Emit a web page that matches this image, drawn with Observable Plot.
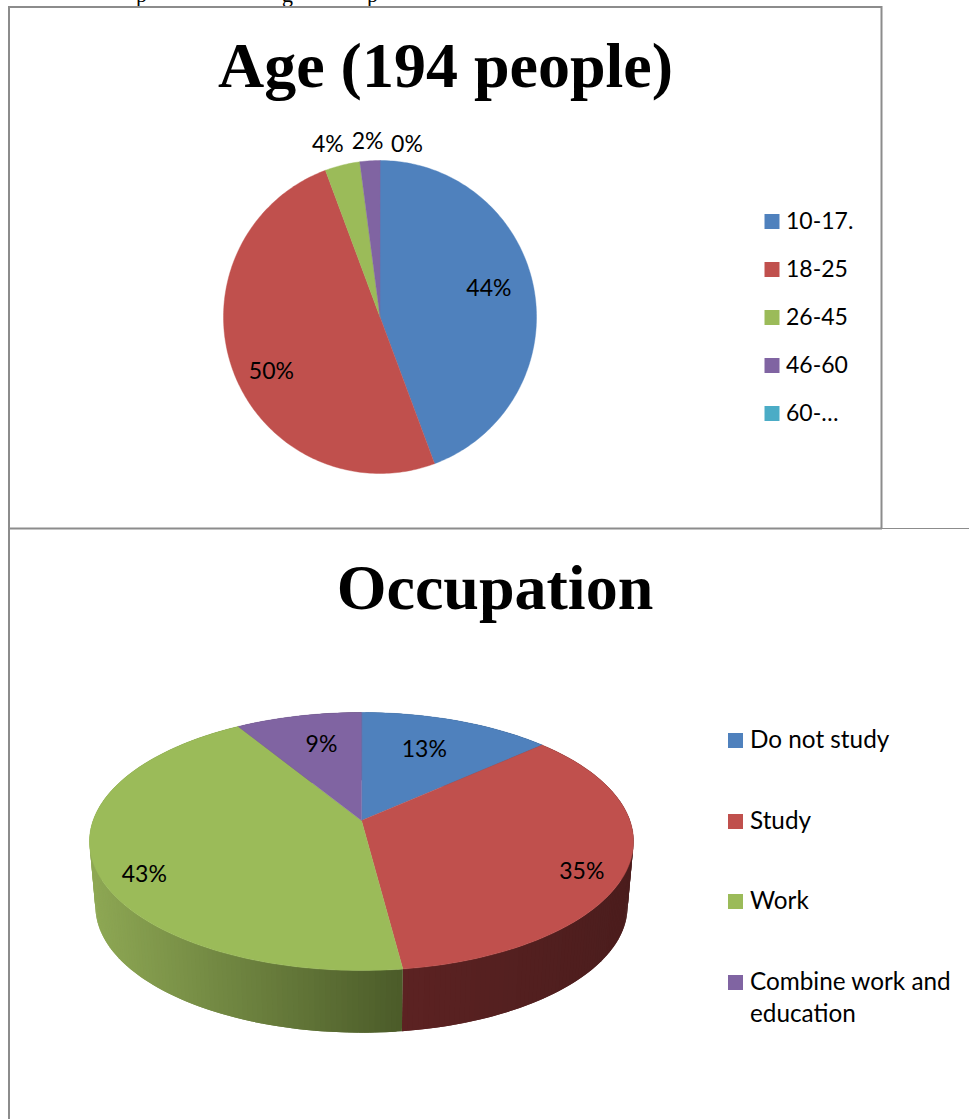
<!DOCTYPE html>
<html>
<head>
<meta charset="utf-8">
<script src="https://cdn.jsdelivr.net/npm/d3@7"></script>
<script src="https://cdn.jsdelivr.net/npm/@observablehq/plot@0.6"></script>
<style>html,body{margin:0;padding:0;background:#fff;overflow:hidden}svg{display:block}</style>
</head>
<body>
<div id="chart"></div>
<script>
// Data
const ageCounts = [86, 97, 7, 4, 0];
const ageLegendLabels = ["10-17.", "18-25", "26-45", "46-60", "60-…"];
const ageColors = ["#4f81bd", "#c0504d", "#9bbb59", "#8064a2", "#4bacc6"];
const occCategories = ["Do not study", "Study", "Work", "Combine work and\neducation"];
const occCounts = [26, 67, 84, 17];
const occColors = ["#4f81bd", "#c0504d", "#9bbb59", "#8064a2"];
const occWallLight = ["#3b618e", "#5c2222", "#8ea854", "#604b7a"];
const occWallDark = ["#2c4a6c", "#4b1d1d", "#4b5b29", "#483a5c"];

// Layout (page pixels)
const W = 969, H = 1119;
const agePie = {cx: 379.5, cy: 316.5, r: 156.5};
const occPie = {cx: 361, apexY: 820, A: 7.9, c: 0.1628, s: 268.4, depth: 65, shrink: 0.978, ellCy: 841};
const ageLabelPlace = [[0.72, -2, -8], [0.72, -3, 15], [1.12, -10, -2], [1.12, -1, 0], [1.12, 27, 3]];
const occLabelPlace = [[0.55, 7, -13], [0.78, 15, 15], [0.82, 0, 18], [0.65, 3, -5]];
const labelFont = "Lato, 'Open Sans', sans-serif";
const labelSize = 23;
const occLegendSize = 24.3;

// Turn values into fractions of the whole
function spans(values) {
  const total = d3.sum(values);
  let acc = 0;
  return values.map(v => {
    const f0 = acc / total;
    acc += v;
    return {f0, f1: acc / total, mid: (f0 + acc / total) / 2, frac: v / total};
  });
}
const ageSpans = spans(ageCounts);
const occSpans = spans(occCounts);
const TAU = Math.PI * 2;

// Flat circle
const flat = (f, k = 1) => ({
  x: agePie.cx + agePie.r * k * Math.sin(f * TAU),
  y: agePie.cy - agePie.r * k * Math.cos(f * TAU)
});
// Tilted disc in perspective
function tilt(f, k = 1) {
  const u = k * Math.sin(f * TAU), v = k * Math.cos(f * TAU);
  const d = 1 + occPie.c * v;
  return {x: occPie.cx + occPie.s * u / d, y: (occPie.apexY + occPie.A * v) / d};
}
function tiltBottom(f) {
  const p = tilt(f);
  return {
    x: occPie.cx + (p.x - occPie.cx) * occPie.shrink,
    y: occPie.ellCy + occPie.depth + (p.y - occPie.ellCy) * occPie.shrink
  };
}

function slicePolys(sp, colors, fn, apex) {
  const pts = [];
  sp.forEach((s, i) => {
    if (s.frac === 0) return;
    const n = Math.max(2, Math.ceil(s.frac * 360));
    pts.push({...apex, key: i, color: colors[i]});
    for (let j = 0; j <= n; j++) {
      const p = fn(s.f0 + (s.f1 - s.f0) * j / n);
      pts.push({...p, key: i, color: colors[i]});
    }
  });
  return pts;
}
const agePts = slicePolys(ageSpans, ageColors, f => flat(f), {x: agePie.cx, y: agePie.cy});
const occPts = slicePolys(occSpans, occColors, f => tilt(f), {x: occPie.cx, y: occPie.apexY});

// Side wall of the tilted disc: strips that overlap their neighbour, light to dark
const wallPts = [];
occSpans.forEach((s, i) => {
  const n = Math.ceil(s.frac * 360);
  const ps = d3.range(n + 1).map(j => s.f0 + (s.f1 - s.f0) * j / n);
  const xs = ps.map(f => tilt(f).x);
  const xLo = d3.min(xs), xHi = d3.max(xs);
  const col = d3.interpolateRgb(occWallLight[i], occWallDark[i]);
  d3.range(n).forEach(j => {
    const a = ps[j], b = ps[Math.min(j + 2, n)];
    const xm = (tilt(ps[j]).x + tilt(ps[j + 1]).x) / 2;
    const t = (xm - xLo) / (xHi - xLo || 1);
    const color = col(t);
    const key = `${i}-${j}`;
    [tilt(a), tilt(b), tiltBottom(b), tiltBottom(a)].forEach(p => wallPts.push({...p, key, color}));
  });
});

// Labels
const ageLabels = ageSpans.map((s, i) => {
  const [k, dx, dy] = ageLabelPlace[i];
  const p = flat(s.mid, k);
  return {x: p.x + dx, y: p.y + dy, text: d3.format(".0%")(s.frac)};
});
const occLabels = occSpans.map((s, i) => {
  const [k, dx, dy] = occLabelPlace[i];
  const p = tilt(s.mid, k);
  return {x: p.x + dx, y: p.y + dy, text: d3.format(".0%")(s.frac)};
});

// Legends
const ageLegend = ageLegendLabels.map((t, i) => ({x: 771.5, tx: 785.5, y: 221 + 48 * i, text: t, color: ageColors[i]}));
const occLegendY = [740, 821, 901, 982];
const occLegend = occCategories.map((t, i) => ({x: 735, tx: 749.5, y: occLegendY[i], text: t, color: occColors[i]}));

// Frames
const frameColor = "#8c8c8c";
const frameH = [{x1: 8, x2: 882, y: 6.5, w: 2}, {x1: 8, x2: 882, y: 528, w: 2}, {x1: 882, x2: 969, y: 528, w: 1}];
const frameV = [{x: 8.5, y1: 6, y2: 1119}, {x: 881, y1: 6, y2: 528}];
const titles = [{x: 445, y: 88, text: "Age (194 people)"}, {x: 494.5, y: 610, text: "Occupation"}];
const cutoff = [{x: 141, text: "p"}, {x: 287, text: "g"}, {x: 372, text: "p"}];

const plot = Plot.plot({
  width: W, height: H,
  margin: 0,
  style: {background: "#fff", overflow: "hidden"},
  x: {domain: [0, W], range: [0, W], axis: null},
  y: {domain: [0, H], range: [0, H], axis: null},
  marks: [
    Plot.text(cutoff, {x: "x", y: 0, text: "text", fontFamily: "Liberation Serif", fontSize: 22, fill: "#000", lineAnchor: "bottom", dy: 1}),
    Plot.ruleY(frameH, {x1: "x1", x2: "x2", y: "y", stroke: frameColor, strokeWidth: "w"}),
    Plot.ruleX(frameV, {x: "x", y1: "y1", y2: "y2", stroke: frameColor, strokeWidth: 2}),
    Plot.text(titles, {x: "x", y: "y", text: "text", fontFamily: "Liberation Serif", fontWeight: "bold", fontSize: 64, fill: "#000", lineAnchor: "bottom", dy: -2}),
    Plot.line(agePts, {x: "x", y: "y", z: "key", fill: "color", stroke: "color", strokeWidth: 0.4, curve: "linear-closed"}),
    Plot.line(wallPts, {x: "x", y: "y", z: "key", fill: "color", stroke: "none", curve: "linear-closed"}),
    Plot.line(occPts, {x: "x", y: "y", z: "key", fill: "color", stroke: "color", strokeWidth: 0.4, curve: "linear-closed"}),
    Plot.text(ageLabels, {x: "x", y: "y", text: "text", fontFamily: labelFont, fontSize: labelSize, fill: "#000"}),
    Plot.text(occLabels, {x: "x", y: "y", text: "text", fontFamily: labelFont, fontSize: labelSize, fill: "#000"}),
    Plot.dot(ageLegend, {x: "x", y: "y", symbol: "square", r: 8.46, fill: "color", stroke: "none"}),
    Plot.dot(occLegend, {x: "x", y: "y", symbol: "square", r: 8.46, fill: "color", stroke: "none"}),
    Plot.text(ageLegend, {x: "tx", y: "y", text: "text", textAnchor: "start", fontFamily: labelFont, fontSize: labelSize, fill: "#000"}),
    Plot.text(occLegend, {x: "tx", y: d => d.y - 15, text: "text", textAnchor: "start", lineAnchor: "top", lineHeight: 32 / occLegendSize, fontFamily: labelFont, fontSize: occLegendSize, fill: "#000"})
  ]
});
document.getElementById("chart").append(plot);
</script>
</body>
</html>
